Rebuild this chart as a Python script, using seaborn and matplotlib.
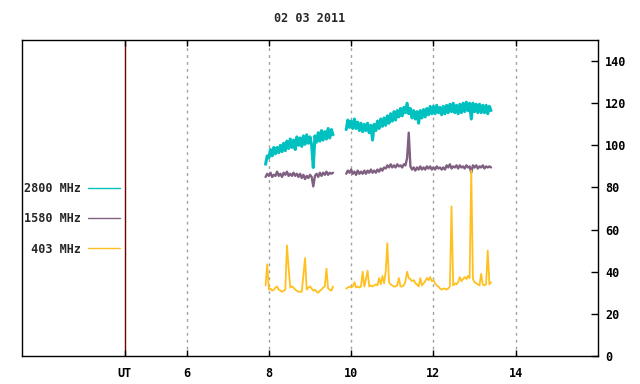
import matplotlib
matplotlib.use("Agg")
import matplotlib.pyplot as plt
import numpy as np
import pandas as pd
import seaborn as sns
from matplotlib.lines import Line2D

# sampling windows (UT hours) of the two observing runs
run1_start, run1_end = 7.92, 9.56
run2_start, run2_end = 9.88, 13.40

# 2800 MHz
f2800_run1 = [91, 95, 94, 98, 95, 99, 96, 99, 96.5, 100, 97, 101, 97.5, 102, 98.5, 103,
              99, 102.5, 98, 104, 100, 103.5, 99.5, 104.5, 100.5, 105, 101, 104, 100, 89.5,
              104.5, 101.5, 106, 102, 107, 102.5, 106.5, 103, 108, 103.5, 107.5, 105]
f2800_run2 = [107.5, 112, 108.5, 111.5, 108, 112.5, 108, 111, 107, 110.5, 106.5, 110, 107,
              110.5, 106, 109.5, 102.5, 110, 107, 111.5, 108, 112.5, 109, 113, 109.5, 114,
              110.5, 115, 111.5, 116, 112, 116.5, 113.5, 117.5, 114, 118, 115.5, 120, 115,
              117.5, 113, 116.5, 112.5, 116, 110.5, 116.5, 113, 117, 113.5, 117.5, 114.5,
              118.5, 115, 118.5, 115, 119, 115.5, 118, 114.5, 118.5, 115, 119, 115.5, 119.5,
              116, 120, 115.5, 119, 115, 119.5, 115.5, 120, 116, 120.5, 116.5, 120, 112.5,
              120, 116, 119.5, 115.5, 119.5, 115.5, 119, 115.5, 119, 115, 118.5, 116.5]

# 1580 MHz
f1580_run1 = [85, 86.5, 85.5, 87, 85, 86, 85.5, 87.5, 85.5, 86.5, 85, 87, 86, 87.5, 85.5,
              86.5, 85.5, 87, 85.5, 86.5, 85, 86.5, 84.5, 86, 84, 85.5, 84.5, 86, 85, 80.5,
              85.5, 86.5, 85, 87, 85.5, 87, 86, 87.5, 86, 87, 86.5, 87]
f1580_run2 = [86.5, 88, 87, 88.5, 86.5, 87.5, 86, 88, 86.5, 87.5, 86.5, 88, 86.5, 88, 87,
              88.5, 87, 88, 87, 88.5, 87.5, 89, 88, 89.5, 89, 90.5, 89.5, 91, 89.5, 90.5,
              89.5, 91, 90, 90.5, 89.5, 91, 90.5, 94, 106, 90, 88.5, 89.5, 88, 89.5, 88.5,
              90, 88.5, 89.5, 88.5, 90, 89, 90, 88.5, 89.5, 88.5, 90, 89, 89.5, 88.5, 89.5,
              88.5, 90.5, 89.5, 91, 89, 90, 89.5, 90.5, 89, 90.5, 89.5, 90, 89, 90.5, 89.5,
              90, 87, 90.5, 89.5, 90.5, 89, 90, 89.5, 90.5, 89, 90, 89.5, 90, 89.5]

# 403 MHz
f403_run1 = [33.5, 43.5, 31.5, 32, 31, 31.5, 32.5, 33, 31.5, 31, 30.5, 31, 31.5, 52.5, 42,
             32.5, 33, 32.5, 31.5, 31, 30.5, 30.5, 30.5, 38.5, 46.5, 31.5, 32.5, 33, 32, 31,
             31.5, 30.5, 30, 31, 31.5, 32.5, 33, 41.5, 32, 31.5, 31, 33]
f403_run2 = [32, 32.5, 33, 32.5, 33, 35, 32.5, 33, 32.5, 33, 40, 33, 36.5, 40.5, 33, 33.5,
             33, 33.5, 34, 33.5, 37, 34, 38, 34.5, 40, 53.5, 35, 34, 33.5, 33, 33, 33.5, 37,
             33, 33, 33.5, 35.5, 40, 37, 36.5, 35.5, 36, 34.5, 34, 33, 37, 33.5, 34.5, 35.5,
             37, 36, 37.5, 35.5, 36, 34.5, 33.5, 33, 32, 31.5, 32, 32, 31.5, 32, 33, 71,
             33.5, 34.5, 34, 35, 37.5, 35.5, 36.5, 37.5, 36.5, 38, 37, 88, 36.5, 35, 34.5, 34,
             33.5, 39, 34, 33.5, 34, 50, 34, 35]

bands = ["2800 MHz", "1580 MHz", "403 MHz"]
colors = {"2800 MHz": "#00c0c0", "1580 MHz": "#806080", "403 MHz": "#ffc020"}
widths = {"2800 MHz": 2.2, "1580 MHz": 1.7, "403 MHz": 1.3}
series = {
    "2800 MHz": (f2800_run1, f2800_run2),
    "1580 MHz": (f1580_run1, f1580_run2),
    "403 MHz": (f403_run1, f403_run2),
}

frames = []
for band in bands:
    r1, r2 = series[band]
    frames.append(pd.DataFrame({"UT": np.linspace(run1_start, run1_end, len(r1)),
                                "flux": r1, "band": band, "run": 1}))
    frames.append(pd.DataFrame({"UT": np.linspace(run2_start, run2_end, len(r2)),
                                "flux": r2, "band": band, "run": 2}))
df = pd.concat(frames, ignore_index=True)

sns.set_theme(style="white")
plt.rcParams["font.family"] = ["DejaVu Sans Mono"]
plt.rcParams["font.weight"] = "bold"

fig = plt.figure(figsize=(6.4, 3.84), dpi=100)
ax = fig.add_axes([22 / 640, 1 - 356 / 384, 576 / 640, 316 / 384])

for x in [6, 8, 10, 12, 14]:
    ax.axvline(x, color="#a0a0a0", lw=1, ls=(0, (2, 3)), zorder=0)
ax.axvline(4.5, color="#700000", lw=1, zorder=0)

for band in bands:
    sns.lineplot(data=df[df["band"] == band], x="UT", y="flux", color=colors[band],
                 units="run", estimator=None, lw=widths[band], legend=False, ax=ax)

ax.set_xlim(2, 16)
ax.set_ylim(0, 150)
ax.set_xticks([4.5, 6, 8, 10, 12, 14])
ax.set_xticklabels(["UT", "6", "8", "10", "12", "14"])
ax.set_yticks(range(0, 141, 20))
ax.yaxis.tick_right()
ax.tick_params(axis="y", direction="in", length=5, width=1, pad=5, labelsize=8.5,
               colors="black", left=False, right=True)
ax.tick_params(axis="x", direction="in", length=4, width=1, pad=8, labelsize=8.5,
               colors="black", top=True, bottom=True)
ax.set_xlabel("")
ax.set_ylabel("")
for s in ax.spines.values():
    s.set_color("black")
    s.set_linewidth(1)

ax.set_title("02 03 2011", fontsize=8.5, fontweight="bold", pad=13)

handles = [Line2D([], [], color=colors[b], lw=1) for b in bands]
labels = ["2800 MHz", "1580 MHz", " 403 MHz"]
ax.legend(handles, labels, loc="center right", bbox_to_anchor=(98 / 576, 137 / 316),
          frameon=False, markerfirst=False, fontsize=8.5, handlelength=2.7,
          handletextpad=0.6, labelspacing=1.45, borderpad=0, borderaxespad=0)

fig.savefig("out.png", dpi=100)
